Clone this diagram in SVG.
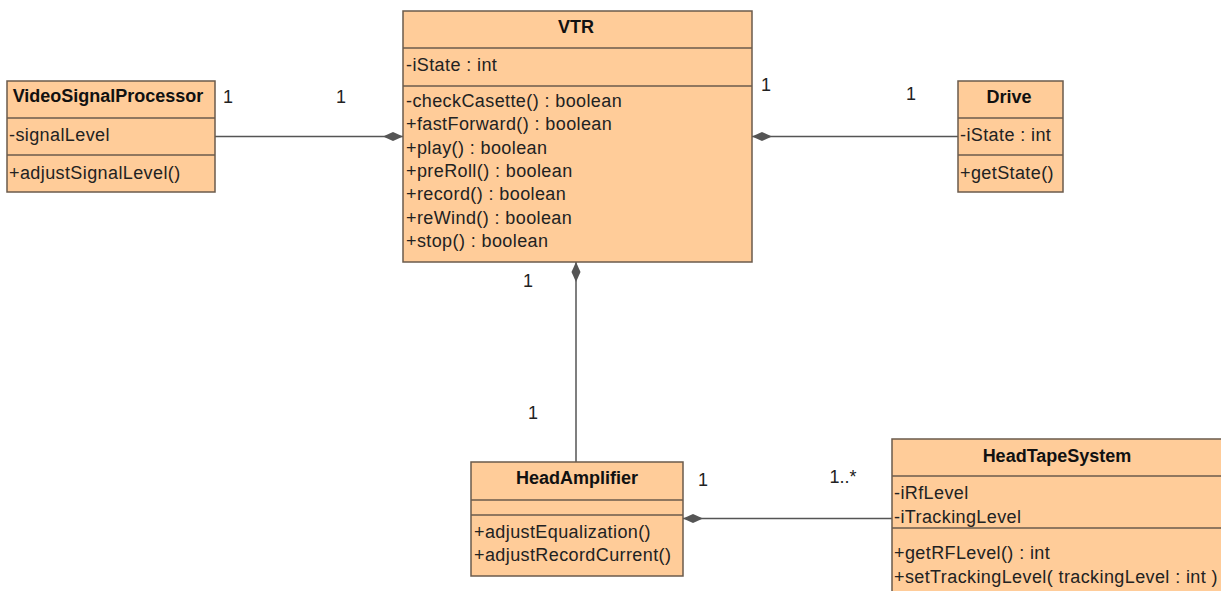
<svg xmlns="http://www.w3.org/2000/svg" width="1221" height="591" viewBox="0 0 1221 591">
<style>
.box{fill:#FFCC99;stroke:#6b5b4c;stroke-width:1.5}
.sep{stroke:#6b5b4c;stroke-width:1.5}
.t{font-family:"Liberation Sans",Arial,sans-serif;font-size:18px;letter-spacing:0.4px;fill:#222}
.h{font-family:"Liberation Sans",Arial,sans-serif;font-size:18px;font-weight:bold;fill:#111;text-anchor:middle}
.m{font-family:"Liberation Sans",Arial,sans-serif;font-size:18px;fill:#222;text-anchor:middle}
.c{stroke:#555;stroke-width:1.5;fill:none;marker-start:url(#dia)}
</style>
<defs>
<marker id="dia" viewBox="0 0 20 10" refX="0" refY="5" markerWidth="20" markerHeight="10" markerUnits="userSpaceOnUse" orient="auto">
<path d="M0,5 L10,0.5 L20,5 L10,9.5 Z" fill="#555"/>
</marker>
</defs>
<rect width="1221" height="591" fill="#fff"/>
<g id="connectors">
<line class="c" x1="403" y1="136.5" x2="215" y2="136.5"/>
<line class="c" x1="752" y1="136.5" x2="958" y2="136.5"/>
<line class="c" x1="576" y1="262" x2="576" y2="462"/>
<line class="c" x1="683" y1="518.5" x2="892" y2="518.5"/>
<text class="m" x="228" y="103">1</text>
<text class="m" x="341" y="103">1</text>
<text class="m" x="766" y="91">1</text>
<text class="m" x="911" y="100">1</text>
<text class="m" x="528" y="287">1</text>
<text class="m" x="533" y="419">1</text>
<text class="m" x="703" y="486">1</text>
<text class="m" x="843" y="483">1..*</text>
</g>
<g id="VideoSignalProcessor">
<rect class="box" x="7" y="81" width="208" height="111"/>
<line class="sep" x1="7" y1="118" x2="215" y2="118"/>
<line class="sep" x1="7" y1="155" x2="215" y2="155"/>
<text class="h" x="108" y="102">VideoSignalProcessor</text>
<text class="t" x="9" y="141">-signalLevel</text>
<text class="t" x="9" y="179">+adjustSignalLevel()</text>
</g>
<g id="VTR">
<rect class="box" x="403" y="11" width="349" height="251"/>
<line class="sep" x1="403" y1="48" x2="752" y2="48"/>
<line class="sep" x1="403" y1="86" x2="752" y2="86"/>
<text class="h" x="576" y="33">VTR</text>
<text class="t" x="406" y="71">-iState : int</text>
<text class="t" x="406" y="107">-checkCasette() : boolean</text>
<text class="t" x="406" y="130.3">+fastForward() : boolean</text>
<text class="t" x="406" y="153.6">+play() : boolean</text>
<text class="t" x="406" y="176.9">+preRoll() : boolean</text>
<text class="t" x="406" y="200.2">+record() : boolean</text>
<text class="t" x="406" y="223.5">+reWind() : boolean</text>
<text class="t" x="406" y="246.8">+stop() : boolean</text>
</g>
<g id="Drive">
<rect class="box" x="958" y="81" width="105" height="111"/>
<line class="sep" x1="958" y1="118" x2="1063" y2="118"/>
<line class="sep" x1="958" y1="155" x2="1063" y2="155"/>
<text class="h" x="1009" y="103">Drive</text>
<text class="t" x="960" y="141">-iState : int</text>
<text class="t" x="960" y="179">+getState()</text>
</g>
<g id="HeadAmplifier">
<rect class="box" x="471" y="462" width="212" height="114"/>
<line class="sep" x1="471" y1="500" x2="683" y2="500"/>
<line class="sep" x1="471" y1="515" x2="683" y2="515"/>
<text class="h" x="577" y="484">HeadAmplifier</text>
<text class="t" x="474" y="538">+adjustEqualization()</text>
<text class="t" x="474" y="561">+adjustRecordCurrent()</text>
</g>
<g id="HeadTapeSystem">
<rect class="box" x="892" y="439" width="330" height="156"/>
<line class="sep" x1="892" y1="476" x2="1222" y2="476"/>
<line class="sep" x1="892" y1="528" x2="1222" y2="528"/>
<text class="h" x="1057" y="462">HeadTapeSystem</text>
<text class="t" x="894" y="499">-iRfLevel</text>
<text class="t" x="894" y="523">-iTrackingLevel</text>
<text class="t" x="894" y="559">+getRFLevel() : int</text>
<text class="t" x="894" y="583">+setTrackingLevel( trackingLevel : int )</text>
</g>
</svg>
